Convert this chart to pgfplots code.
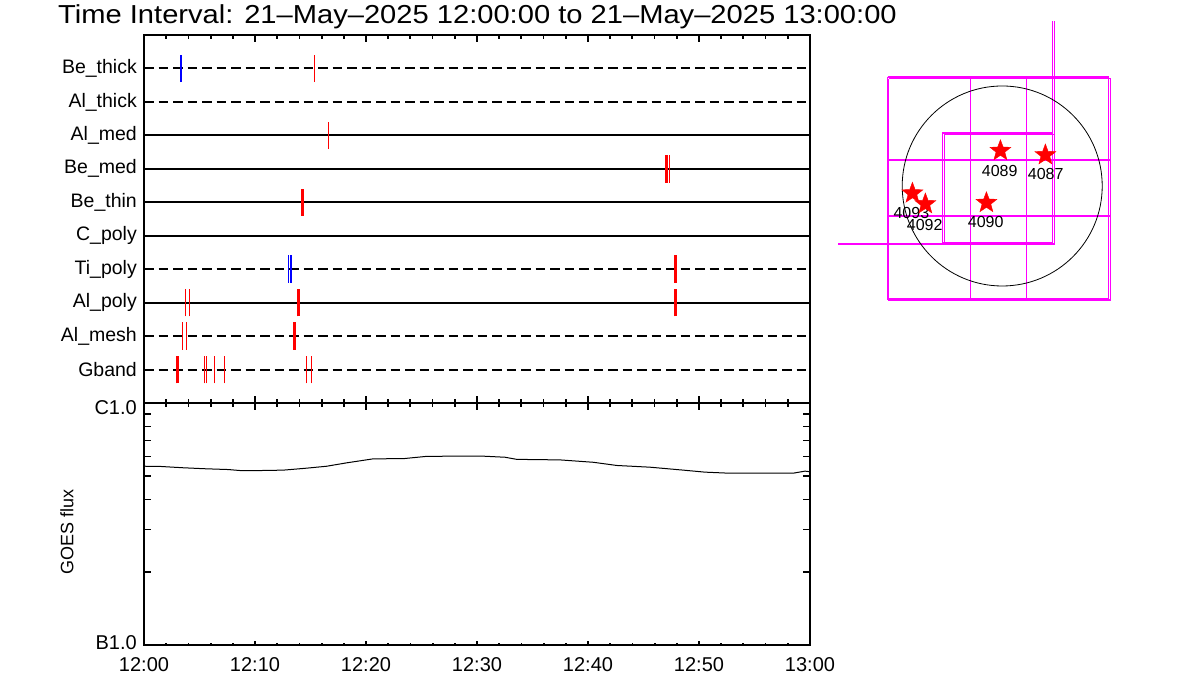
\documentclass[border=0pt]{standalone}
\usepackage{fontspec}
\setmainfont{Liberation Sans}
\usepackage{pgfplots}
\pgfplotsset{compat=1.18}

\pgfdeclareplotmark{fstar}{%
  \pgfpathmoveto{\pgfpointpolar{90}{\pgfplotmarksize}}%
  \pgfpathlineto{\pgfpointpolar{126}{0.42\pgfplotmarksize}}%
  \pgfpathlineto{\pgfpointpolar{162}{\pgfplotmarksize}}%
  \pgfpathlineto{\pgfpointpolar{198}{0.42\pgfplotmarksize}}%
  \pgfpathlineto{\pgfpointpolar{234}{\pgfplotmarksize}}%
  \pgfpathlineto{\pgfpointpolar{270}{0.42\pgfplotmarksize}}%
  \pgfpathlineto{\pgfpointpolar{306}{\pgfplotmarksize}}%
  \pgfpathlineto{\pgfpointpolar{342}{0.42\pgfplotmarksize}}%
  \pgfpathlineto{\pgfpointpolar{18}{\pgfplotmarksize}}%
  \pgfpathlineto{\pgfpointpolar{54}{0.42\pgfplotmarksize}}%
  \pgfpathclose
  \pgfusepathqfillstroke
}

\definecolor{mag}{RGB}{255,0,255}

\begin{document}
\begin{tikzpicture}
\path[use as bounding box] (0pt,0pt) rectangle (1200pt,700pt);

\node[anchor=base west, inner sep=0pt, font=\fontsize{26}{30}\selectfont] at (58pt,676pt)
  {\scalebox{1.12}[1]{Time Interval: 21--May--2025 12:00:00 to 21--May--2025 13:00:00}};

% ---------------- top panel: filter timeline ----------------
\begin{axis}[
  at={(144pt,297pt)}, anchor=south west, scale only axis,
  width=666pt, height=368pt,
  xmin=0, xmax=60, ymin=0, ymax=11,
  xtick={0,10,...,60}, minor x tick num=4, xticklabels={},
  ytick={1,...,10},
  yticklabels={Gband,Al\_mesh,Al\_poly,Ti\_poly,C\_poly,Be\_thin,Be\_med,Al\_med,Al\_thick,Be\_thick},
  tick align=inside,
  axis line style={line width=2pt},
  xtick style={line width=1.8pt, black, /pgfplots/major tick length=7pt, /pgfplots/minor tick length=4pt},
  ytick style={draw=none},
  yticklabel style={font=\fontsize{19.5}{22}\selectfont, inner sep=0pt, xshift=-7pt},
  unbounded coords=jump,
]
% filter rows
\addplot[black, line width=2pt, dash pattern=on 9.5pt off 5pt] coordinates {(0,10) (60,10)};
\addplot[black, line width=2pt, dash pattern=on 9.5pt off 5pt] coordinates {(0,9) (60,9)};
\addplot[black, line width=2pt] coordinates {(0,8) (60,8)};
\addplot[black, line width=2pt] coordinates {(0,7) (60,7)};
\addplot[black, line width=2pt] coordinates {(0,6) (60,6)};
\addplot[black, line width=2pt] coordinates {(0,5) (60,5)};
\addplot[black, line width=2pt, dash pattern=on 9.5pt off 5pt] coordinates {(0,4) (60,4)};
\addplot[black, line width=2pt] coordinates {(0,3) (60,3)};
\addplot[black, line width=2pt, dash pattern=on 9.5pt off 5pt] coordinates {(0,2) (60,2)};
\addplot[black, line width=2pt, dash pattern=on 9.5pt off 5pt] coordinates {(0,1) (60,1)};

% blue exposures
\addplot[blue, line width=2pt] coordinates {(3.33,9.59) (3.33,10.41)};
\addplot[blue, line width=1pt] coordinates {(13.0,3.59) (13.0,4.41)};
\addplot[blue, line width=1.7pt] coordinates {(13.24,3.59) (13.24,4.41)};

% red thin exposures
\addplot[red, line width=1.1pt] coordinates {
 (15.34,9.59) (15.34,10.41) (nan,nan)
 (16.6,7.59) (16.6,8.41) (nan,nan)
 (47.32,6.59) (47.32,7.41) (nan,nan)
 (3.72,2.59) (3.72,3.41) (nan,nan)
 (4.08,2.59) (4.08,3.41) (nan,nan)
 (3.45,1.59) (3.45,2.41) (nan,nan)
 (3.81,1.59) (3.81,2.41) (nan,nan)
 (5.43,0.59) (5.43,1.41) (nan,nan)
 (5.61,0.59) (5.61,1.41) (nan,nan)
 (6.33,0.59) (6.33,1.41) (nan,nan)
 (7.23,0.59) (7.23,1.41) (nan,nan)
 (14.62,0.59) (14.62,1.41) (nan,nan)
 (15.07,0.59) (15.07,1.41)
};
% red thick exposures
\addplot[red, line width=2.5pt] coordinates {
 (47.09,6.59) (47.09,7.41) (nan,nan)
 (14.26,5.59) (14.26,6.41) (nan,nan)
 (47.9,3.59) (47.9,4.41) (nan,nan)
 (13.9,2.59) (13.9,3.41) (nan,nan)
 (47.9,2.59) (47.9,3.41) (nan,nan)
 (13.54,1.59) (13.54,2.41) (nan,nan)
 (3.04,0.59) (3.04,1.41)
};
\end{axis}

% ---------------- GOES panel ----------------
\begin{axis}[
  at={(144pt,55pt)}, anchor=south west, scale only axis,
  width=666pt, height=242pt,
  xmin=0, xmax=60, ymode=log, ymin=1e-7, ymax=1e-6,
  xtick={0,10,...,60}, minor x tick num=4,
  xticklabels={12:00,12:10,12:20,12:30,12:40,12:50,13:00},
  xtick pos=right, xticklabel pos=left,
  ytick={1e-7,1e-6}, yticklabels={\raisebox{3pt}{B1.0},\raisebox{-4pt}{C1.0}},
  minor ytick={2e-7,3e-7,4e-7,5e-7,6e-7,7e-7,8e-7,9e-7},
  tick align=inside,
  axis line style={line width=2pt},
  xtick style={line width=1.8pt, black, /pgfplots/major tick length=7pt, /pgfplots/minor tick length=4pt},
  ytick style={line width=1.5pt, black, /pgfplots/major tick length=10pt, /pgfplots/minor tick length=7pt},
  xticklabel style={font=\fontsize{20}{24}\selectfont, inner sep=0pt, yshift=-12pt},
  yticklabel style={font=\fontsize{20}{24}\selectfont, inner sep=0pt, xshift=-7pt, anchor=base east, yshift=-7pt},
  ylabel={GOES flux},
  every axis y label/.style={at={(axis description cs:-0.1156,0.465)}, rotate=90, anchor=center, font=\fontsize{18}{22}\selectfont},
]
\addplot[black, line width=1pt] coordinates {
 (0,5.48e-7) (1.44,5.47e-7) (3.54,5.40e-7) (5.5,5.35e-7) (7.6,5.31e-7)
 (8.65,5.26e-7) (10.45,5.26e-7) (12.55,5.28e-7) (14.66,5.38e-7) (16.46,5.48e-7)
 (18.26,5.66e-7) (20.66,5.88e-7) (23.36,5.89e-7) (25.47,6.02e-7) (30.27,6.04e-7)
 (32.52,5.97e-7) (33.58,5.85e-7) (37.48,5.82e-7) (40.48,5.69e-7) (42.59,5.52e-7)
 (45.59,5.43e-7) (48.59,5.28e-7) (50.54,5.18e-7) (52.64,5.13e-7) (58.5,5.13e-7)
 (59.55,5.23e-7) (60,5.20e-7)
};
\end{axis}
% short bottom ticks of the GOES panel
\begin{axis}[
  at={(144pt,55pt)}, anchor=south west, scale only axis,
  width=666pt, height=242pt,
  xmin=0, xmax=60, ymin=0, ymax=1,
  xtick={0,10,...,60}, minor x tick num=4, xticklabels={},
  xtick pos=left, ytick=\empty,
  axis line style={draw=none},
  tick align=inside,
  xtick style={line width=1.8pt, black, /pgfplots/major tick length=4pt, /pgfplots/minor tick length=2pt},
]
\end{axis}

% ---------------- solar disk map ----------------
\begin{axis}[
  at={(838pt,398pt)}, anchor=south west, scale only axis,
  width=280pt, height=280pt,
  xmin=-1560, xmax=1100, ymin=-1102, ymax=1558,
  hide axis, clip=true,
]
% mosaic grid
\addplot[mag, line width=1.4pt] coordinates {(-1088,1036) (1012,1036) (1012,-1074) (-1088,-1074) (-1088,1036)};
\addplot[mag, line width=1.4pt] coordinates {(-1078,1021) (1031,1021) (1031,-1083) (-1078,-1083) (-1078,1021)};
\addplot[mag, line width=1.4pt] coordinates {(-302,1036) (-302,-1083)};
\addplot[mag, line width=1.4pt] coordinates {(230,1036) (230,-1083)};
\addplot[mag, line width=1.4pt] coordinates {(-1088,247) (1031,247)};
\addplot[mag, line width=1.4pt] coordinates {(-1088,-285) (1031,-285)};
% inner fields of view
\addplot[mag, line width=1.5pt] coordinates {(480,1700) (480,-542) (-565,-542) (-565,504) (480,504)};
\addplot[mag, line width=1.5pt] coordinates {(499,1700) (499,-551) (-1700,-551)};
\addplot[mag, line width=1.5pt] coordinates {(-546,-551) (-546,489) (499,489)};
% solar limb
\draw[black, line width=0.8pt] (axis cs:0,0) circle [radius=100pt];
% active regions
\addplot[only marks, mark=fstar, mark size=11pt, mark options={fill=red, draw=red}] coordinates {
 (-17,335) (410,294.5) (-853,-69) (-730,-171) (-150,-159)
};
\node[font=\fontsize{16}{18}\selectfont, inner sep=0pt] at (axis cs:-24,145) {4089};
\node[font=\fontsize{16}{18}\selectfont, inner sep=0pt] at (axis cs:413,111) {4087};
\node[font=\fontsize{16}{18}\selectfont, inner sep=0pt] at (axis cs:-863,-259) {4093};
\node[font=\fontsize{16}{18}\selectfont, inner sep=0pt] at (axis cs:-736,-370) {4092};
\node[font=\fontsize{16}{18}\selectfont, inner sep=0pt] at (axis cs:-157,-345) {4090};
\end{axis}
\end{tikzpicture}
\end{document}
